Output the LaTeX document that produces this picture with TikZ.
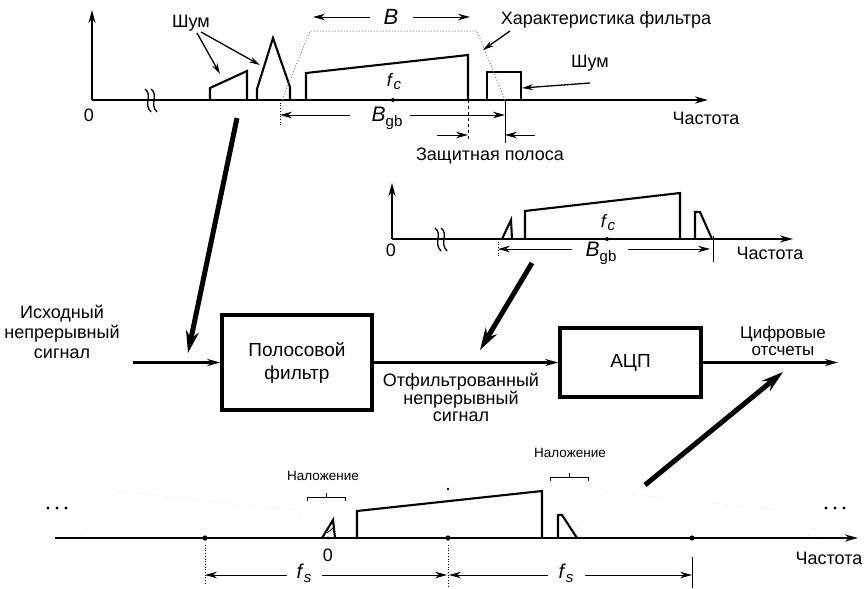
\documentclass[tikz,border=0pt]{standalone}
\usepackage{fontspec}
\setmainfont{Liberation Sans}
\usetikzlibrary{arrows.meta}
\newcommand{\sublbl}[3]{\textit{#1}\raisebox{-#3}{\fontsize{15}{15}\selectfont #2}}
\begin{document}
\begin{tikzpicture}[x=1pt,y=-1pt,
  axis/.style={line width=2.1pt,-{Stealth[length=13pt,width=7pt]}},
  shp/.style={line width=2.1pt,line join=miter},
  dimarrow/.style={line width=0.9pt,-{Stealth[length=12pt,width=6.5pt]}},
  bigarrow/.style={line width=5pt,-{Stealth[length=22pt,width=13pt]}},
  ptr/.style={line width=1.3pt,-{Stealth[length=11pt,width=6pt]}},
  blk/.style={draw,line width=3.5pt,align=center,inner sep=0,
    font=\fontsize{19}{23}\selectfont},
  sig/.style={line width=2.1pt,-{Stealth[length=13pt,width=7pt]}},
  lab/.style={font=\fontsize{18}{20}\selectfont,align=center,inner sep=0},
  smalllab/.style={font=\fontsize{13.5}{15}\selectfont,inner sep=0},
  mlab/.style={font=\fontsize{20}{20}\selectfont,inner sep=0},
  filt/.style={gray,dotted,line width=1pt},
  faint/.style={gray!22,dotted,line width=0.8pt},
  ext/.style={line width=0.7pt},
  brk/.pic={\draw[line width=1.3pt] (-5,-11) .. controls (3,-5) and (-7,4) .. (1,12);
            \draw[line width=1.3pt] (1,-11) .. controls (9,-5) and (-1,4) .. (7,12);}
]
\useasboundingbox (0,0) rectangle (868,589);

% ================= TOP PANEL =================
\coordinate (t0) at (92,100);
\coordinate (tY) at (92,10);
\coordinate (tX) at (708,100);
\draw[axis] (t0) -- (tY);
\draw[axis] (t0) -- (tX);
\pic at (150,100) {brk};
\node[lab] (tzero) at (89,115) {0};
\node[lab] (tfreq) at (706,118) {Частота};
% spectra
\draw[shp] (210,100) -- (210,88) -- (247,71) -- (247,100);
\draw[shp] (257,100) -- (257,89) -- (273,38) -- (290,87) -- (290,100);
\draw[shp] (306,100) -- (306,73) -- (468,55) -- (468,100);
\draw[shp] (487,100) -- (487,72) -- (521,72) -- (521,100);
\draw[filt] (282,100) -- (310,31) -- (477,31) -- (505,100);
\fill (393,100) circle (2pt);
\node[lab] (tfc) at (394,82) {\sublbl{f}{\textit{c}}{3pt}};
% B dimension
\node[mlab] (tB) at (391,17) {\fontsize{22}{22}\selectfont\textit{B}};
\coordinate (tBl) at (313,17); \coordinate (tBr) at (470,17);
\coordinate (tBl0) at (370,17); \coordinate (tBr0) at (413,17);
\draw[dimarrow] (tBl0) -- (tBl);
\draw[dimarrow] (tBr0) -- (tBr);
% labels with pointers
\node[lab] (tnoise1) at (191,23) {Шум};
\coordinate (tn1a) at (220,74); \coordinate (tn1b) at (260,65);
\draw[ptr] (197,33) -- (tn1a);
\draw[ptr] (201,32) -- (tn1b);
\node[lab] (tfilt) at (606,20) {Характеристика фильтра};
\coordinate (tfa) at (483,50);
\draw[ptr] (510,31) -- (tfa);
\node[lab] (tnoise2) at (590,63) {Шум};
\coordinate (tn2a) at (522,88);
\draw[ptr] (590,83) -- (tn2a);
% B_gb dimension
\draw[ext,dotted] (280,100) -- (280,126);
\draw[ext] (505,100) -- (505,143);
\draw[ext,dashed] (468,100) -- (468,140);
\node[mlab] (tBgb) at (387,118) {\fontsize{21}{21}\selectfont\sublbl{B}{gb}{5pt}};
\draw[dimarrow] (350,115) -- (280,115);
\draw[dimarrow] (410,115) -- (505,115);
\draw[dimarrow] (437,135) -- (468,135);
\draw[dimarrow] (535,135) -- (505,135);
\node[lab] (tguard) at (490,156) {Защитная полоса};

% ================= MIDDLE PANEL =================
\coordinate (m0) at (392,239);
\draw[axis] (m0) -- (392,183);
\draw[axis] (m0) -- (793,239);
\pic at (440,239) {brk};
\node[lab] (mzero) at (391,250) {0};
\node[lab] (mfreq) at (770,253) {Частота};
\draw[shp] (502,239) -- (511,220) -- (512,239);
\draw[shp] (525,239) -- (525,211) -- (680,193) -- (680,239);
\draw[shp] (695,239) -- (695,212) -- (700,212) -- (712,239);
\fill (607,239) circle (2pt);
\node[lab] (mfc) at (608,223) {\sublbl{f}{\textit{c}}{3pt}};
\draw[ext,dotted] (498,239) -- (498,256);
\draw[ext] (713,236) -- (713,262);
\node[mlab] (mBgb) at (601,253) {\fontsize{21}{21}\selectfont\sublbl{B}{gb}{5pt}};
\draw[dimarrow] (572,249) -- (498,249);
\draw[dimarrow] (628,249) -- (710,249);

% ================= BLOCK DIAGRAM =================
\node[blk,minimum width=150pt,minimum height=95pt] (bpf) at (297,362.5) {Полосовой\\фильтр};
\node[blk,minimum width=141pt,minimum height=69pt] (adc) at (630.5,362.5) {АЦП};
\coordinate (in) at (133,362.5);
\coordinate (out) at (838,362.5);
\draw[sig] (in) -- (bpf.west);
\draw[sig] (bpf.east) -- (adc.west);
\draw[sig] (adc.east) -- (out);
\node[lab] (inlab) at (62,332) {Исходный\\непрерывный\\сигнал};
\node[lab,font=\fontsize{18}{17}\selectfont] (filtlab) at (461,397) {Отфильтрованный\\непрерывный\\сигнал};
\node[lab,font=\fontsize{17}{17}\selectfont] (outlab) at (783,341) {Цифровые\\отсчеты};

% big arrows
\coordinate (a1s) at (237,118); \coordinate (a1e) at (188,353);
\coordinate (a2s) at (532,263); \coordinate (a2e) at (480,350);
\coordinate (a3s) at (645,485); \coordinate (a3e) at (783,372);
\draw[bigarrow] (a1s) -- (a1e);
\draw[bigarrow] (a2s) -- (a2e);
\draw[bigarrow] (a3s) -- (a3e);

% ================= BOTTOM PANEL =================
\coordinate (b0) at (55,538);
% faint replicas
\draw[faint] (114,538) -- (114,491) -- (299,511) -- (299,538);
\draw[faint] (601,538) -- (601,491) -- (786,511) -- (786,538);
\draw[faint] (79,538) -- (94,523) -- (98,523) -- (98,538);
\draw[faint] (566,538) -- (581,523) -- (585,523) -- (585,538);
\draw[faint] (808,538) -- (810,525) -- (821,538);
\draw[axis] (b0) -- (858,538);
\foreach \x in {205,448,692} \fill (\x,538) circle (2.6pt);
\fill (328,538) circle (1.6pt);
\node[lab] (bzero) at (328,555) {0};
\node[lab] (bfreq) at (829,558) {Частота};
\foreach \x in {48,57,66} \fill (\x,508) circle (1.6pt);
\foreach \x in {826,835,844} \fill (\x,508) circle (1.6pt);
% spectra
\draw[shp] (322,538) -- (333,520) -- (335,538);
\draw[line width=0.8pt] (327,533) -- (333,528);
\draw[shp] (357,538) -- (357,511) -- (542,491) -- (542,538);
\draw[shp] (558,538) -- (558,515) -- (562,515) -- (577,538);
\fill (448,489) circle (1.3pt);
% aliasing brackets
\node[smalllab] (al1) at (323,476) {Наложение};
\draw[line width=1pt] (307,501) -- (307,497) -- (345,497) -- (345,501);
\draw[line width=1pt] (326,497) -- (326,493);
\node[smalllab] (al2) at (570,453) {Наложение};
\draw[line width=1pt] (550,481) -- (550,477) -- (588,477) -- (588,481);
\draw[line width=1pt] (569,477) -- (569,473);
% fs dimensions
\draw[ext,dotted] (205,545) -- (205,584);
\draw[ext,dotted] (448,545) -- (448,588);
\draw[ext] (692,557) -- (692,588);
\node[mlab] (fs1) at (304,573) {\sublbl{f}{\textit{s}}{4pt}};
\node[mlab] (fs2) at (566,573) {\sublbl{f}{\textit{s}}{4pt}};
\draw[dimarrow] (287,575) -- (205,575);
\draw[dimarrow] (322,575) -- (447,575);
\draw[dimarrow] (548,575) -- (449,575);
\draw[dimarrow] (585,575) -- (692,575);
\end{tikzpicture}
\end{document}
